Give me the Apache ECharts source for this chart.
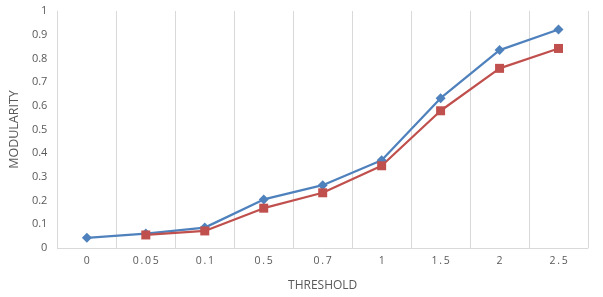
<!DOCTYPE html>
<html><head><meta charset="utf-8">
<script src="https://cdn.jsdelivr.net/npm/echarts@6/dist/echarts.min.js"></script>
<style>html,body{margin:0;padding:0;background:#fff}#c{width:603px;height:297px}</style>
</head><body><div id="c"></div>
<script>
var categories = ['0', '0.05', '0.1', '0.5', '0.7', '1', '1.5', '2', '2.5'];
var seriesBlue = [0.043, 0.061, 0.086, 0.205, 0.265, 0.370, 0.632, 0.835, 0.922];
var seriesRed = [null, 0.055, 0.072, 0.168, 0.233, 0.347, 0.579, 0.758, 0.842];
var yTicks = [0, 0.1, 0.2, 0.3, 0.4, 0.5, 0.6, 0.7, 0.8, 0.9, 1];
var xTitle = 'THRESHOLD';
var yTitle = 'MODULARITY';

var chart = echarts.init(document.getElementById('c'));
var font = 'Open Sans, Liberation Sans, sans-serif';
chart.setOption({
  animation: false,
  grid: { left: 55, right: 15, top: 11, bottom: 46, containLabel: false },
  xAxis: {
    type: 'category', data: categories, boundaryGap: true,
    name: xTitle, nameLocation: 'middle', nameGap: 32,
    nameTextStyle: { color: '#595959', fontSize: 12, fontFamily: font },
    axisLine: { show: true, lineStyle: { color: '#d9d9d9', width: 1 } },
    axisTick: { show: false },
    splitLine: { show: true, lineStyle: { color: '#d9d9d9', width: 1 } },
    axisLabel: { color: '#595959', fontSize: 10.5, fontFamily: font, margin: 8,
      formatter: function (v) { return v.split('').join('\u2009'); } }
  },
  yAxis: {
    type: 'value', min: 0, max: 1, interval: 0.1,
    name: yTitle, nameLocation: 'middle', nameGap: 31, nameRotate: 90,
    nameTextStyle: { color: '#595959', fontSize: 12.5, fontFamily: font },
    axisLine: { show: false }, axisTick: { show: false },
    splitLine: { show: false },
    axisLabel: { color: '#595959', fontSize: 11, fontFamily: font, margin: 10,
      formatter: function (v) { var r = Math.round(v * 10) / 10; return yTicks.indexOf(r) >= 0 ? String(r) : ''; } }
  },
  series: [
    { type: 'line', data: seriesBlue, symbol: 'diamond', symbolSize: 10,
      lineStyle: { color: '#4F81BD', width: 2.25 }, itemStyle: { color: '#4F81BD' }, connectNulls: false },
    { type: 'line', data: seriesRed, symbol: 'rect', symbolSize: 9,
      lineStyle: { color: '#C0504D', width: 2.25 }, itemStyle: { color: '#C0504D' }, connectNulls: false }
  ]
});
</script></body></html>
